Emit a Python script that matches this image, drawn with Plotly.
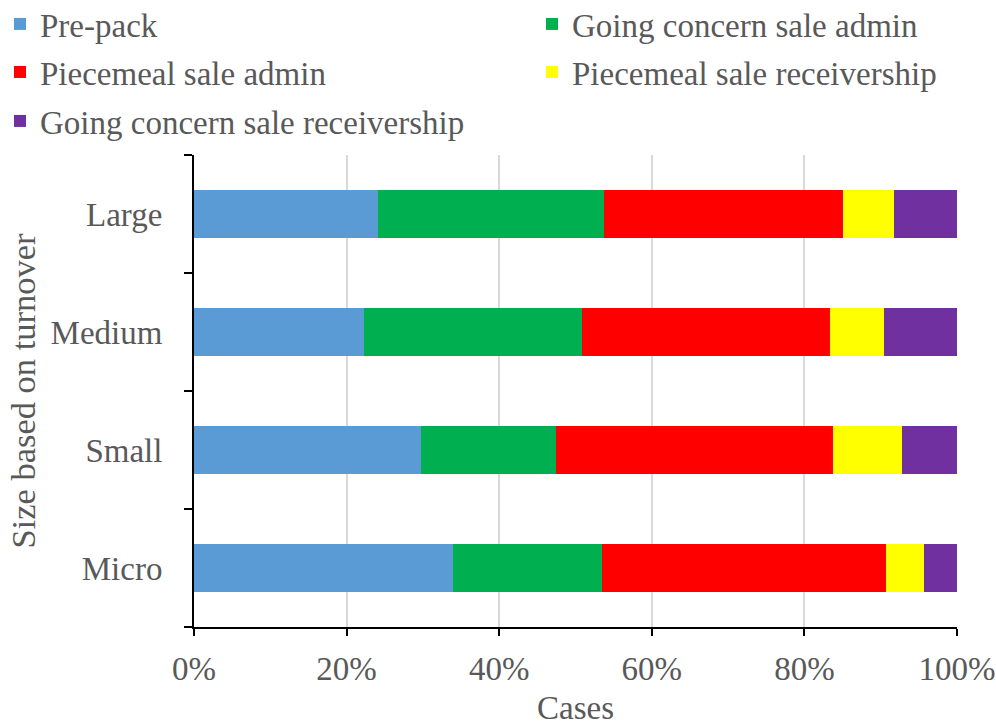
import plotly.graph_objects as go

# Firm size categories (bottom to top on the chart)
categories = ["Micro", "Small", "Medium", "Large"]

# Share of cases (%) by outcome for each size band
pre_pack = [33.9, 29.7, 22.3, 24.1]
going_concern_admin = [19.6, 17.8, 28.5, 29.7]
piecemeal_admin = [37.2, 36.2, 32.6, 31.3]
piecemeal_receivership = [5.0, 9.1, 7.0, 6.7]
going_concern_receivership = [4.3, 7.2, 9.6, 8.2]

x_ticks = [0, 20, 40, 60, 80, 100]
x_tick_labels = ["0%", "20%", "40%", "60%", "80%", "100%"]

FONT = "Liberation Serif"
GREY = "#595959"
SIZE = 33

# name, values, colour, legend id, legend position (container px from left, from top)
series = [
    ("Pre-pack", pre_pack, "#5b9bd5", "legend", (0, 24)),
    ("Going concern sale admin", going_concern_admin, "#00b050", "legend2", (532, 24)),
    ("Piecemeal sale admin", piecemeal_admin, "#ff0000", "legend3", (0, 72)),
    ("Piecemeal sale receivership", piecemeal_receivership, "#ffff00", "legend4", (532, 72)),
    ("Going concern sale receivership", going_concern_receivership, "#7030a0", "legend5", (0, 121)),
]

W, H = 996, 726

fig = go.Figure()
legends = {}
for name, values, color, leg, (lx, ly) in series:
    fig.add_trace(go.Bar(
        y=categories, x=values, name=name, orientation="h",
        marker=dict(color=color, line=dict(width=0)),
        legend=leg, showlegend=True,
    ))
    legends[leg] = dict(
        orientation="h", xref="container", yref="container",
        xanchor="left", yanchor="middle",
        x=lx / W, y=1 - ly / H,
        font=dict(family=FONT, size=SIZE, color=GREY),
        bgcolor="rgba(0,0,0,0)", borderwidth=0,
        itemclick=False, itemdoubleclick=False,
        visible=True,
    )

fig.update_layout(
    width=W, height=H,
    showlegend=True,
    barmode="stack", bargap=0.6,
    plot_bgcolor="white", paper_bgcolor="white",
    margin=dict(l=194, r=39, t=155, b=99),
    font=dict(family=FONT, size=SIZE, color=GREY),
    **legends,
    xaxis=dict(
        range=[0, 100], tickmode="array", tickvals=x_ticks, ticktext=x_tick_labels,
        ticklabeloverflow="allow", automargin=False,
        showgrid=True, gridcolor="#d9d9d9", gridwidth=1.5,
        showline=True, linecolor="black", linewidth=2,
        ticks="outside", ticklen=7, tickcolor="black", tickwidth=2,
        tickfont=dict(family=FONT, size=SIZE, color=GREY),
        ticklabelstandoff=4,
        title=dict(text="Cases", font=dict(family=FONT, size=SIZE, color=GREY), standoff=10),
        zeroline=False, fixedrange=True,
    ),
    yaxis=dict(
        categoryorder="array", categoryarray=categories,
        automargin=False,
        showline=True, linecolor="black", linewidth=2,
        ticks="outside", ticklen=8, tickcolor="black", tickwidth=2,
        tickson="boundaries", showgrid=False,
        tickfont=dict(family=FONT, size=SIZE, color=GREY),
        ticklabelstandoff=23,
        title=dict(text="Size based on turnover", font=dict(family=FONT, size=34.5, color=GREY), standoff=4),
        fixedrange=True,
    ),
)

fig.write_html("out.html")
